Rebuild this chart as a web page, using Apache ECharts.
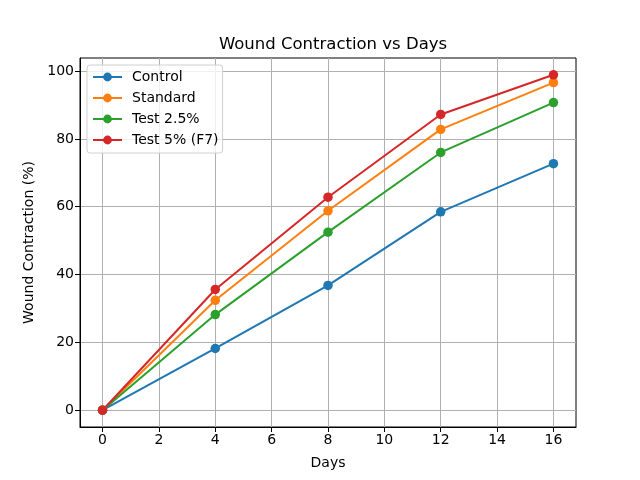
<!DOCTYPE html>
<html>
<head>
<meta charset="utf-8">
<script src="https://cdn.jsdelivr.net/npm/echarts@6/dist/echarts.min.js"></script>
<style>html,body{margin:0;padding:0;background:#fff}#c{width:640px;height:480px}</style>
</head>
<body>
<div id="c"></div>
<script>
const days = [0, 4, 8, 12, 16];
const xTicks = [0, 2, 4, 6, 8, 10, 12, 14, 16];
const yTicks = [0, 20, 40, 60, 80, 100];
const control = [0, 18.2, 36.8, 58.5, 72.7];
const standard = [0, 32.4, 58.8, 82.8, 96.6];
const test25 = [0, 28.2, 52.5, 76.0, 90.7];
const test5 = [0, 35.6, 62.8, 87.2, 98.9];
const seriesNames = ['Control', 'Standard', 'Test 2.5%', 'Test 5% (F7)'];
const colors = ['#1f77b4', '#ff7f0e', '#2ca02c', '#d62728'];
const allValues = [control, standard, test25, test5];

const font = 'DejaVu Sans';
const chart = echarts.init(document.getElementById('c'), null, {renderer: 'canvas'});

function mkSeries(name, vals, color) {
  return {
    name: name, type: 'line',
    data: days.map((d, i) => [d, vals[i]]),
    symbol: 'circle', symbolSize: 9.5,
    lineStyle: {width: 2, color: color},
    itemStyle: {color: color},
    emphasis: {disabled: true},
    animation: false
  };
}

const axisCommon = {
  axisLine: {show: true, onZero: false, lineStyle: {color: '#000', width: 1}},
  axisTick: {show: true, inside: false, length: 5, lineStyle: {color: '#000', width: 1}},
  splitLine: {show: true, lineStyle: {color: '#b0b0b0', width: 1}},
  axisLabel: {color: '#000', fontFamily: font, fontSize: 14, margin: 6},
  nameTextStyle: {color: '#000', fontFamily: font, fontSize: 14}
};

chart.setOption({
  backgroundColor: '#fff',
  animation: false,
  title: {
    text: 'Wound Contraction vs Days', left: 328, top: 31, textAlign: 'center',
    textStyle: {fontFamily: font, fontSize: 16.5, fontWeight: 'normal', color: '#000'}
  },
  grid: {left: 80, right: 64, top: 58, bottom: 53, containLabel: false, show: true, borderColor: '#000', borderWidth: 1},
  legend: {
    orient: 'vertical', left: 87, top: 65,
    data: seriesNames,
    backgroundColor: 'rgba(255,255,255,0.8)', borderColor: '#d0d0d0', borderWidth: 1, borderRadius: 3,
    padding: [5, 4, 6, 5],
    itemWidth: 29, itemHeight: 11, itemGap: 7,
    textStyle: {fontFamily: font, fontSize: 14, color: '#000', padding: [0, 0, 0, 5], lineHeight: 14}
  },
  xAxis: Object.assign({}, axisCommon, {
    type: 'value', min: -0.8, max: 16.8,
    name: 'Days', nameLocation: 'middle', nameGap: 29,
    axisTick: Object.assign({}, axisCommon.axisTick, {customValues: xTicks}),
    axisLabel: Object.assign({}, axisCommon.axisLabel, {customValues: xTicks})
  }),
  yAxis: Object.assign({}, axisCommon, {
    type: 'value', min: -4.95, max: 103.85,
    name: 'Wound Contraction (%)', nameLocation: 'middle', nameGap: 42,
    axisTick: Object.assign({}, axisCommon.axisTick, {customValues: yTicks}),
    axisLabel: Object.assign({}, axisCommon.axisLabel, {customValues: yTicks})
  }),
  series: seriesNames.map((n, i) => mkSeries(n, allValues[i], colors[i]))
});
</script>
</body>
</html>
